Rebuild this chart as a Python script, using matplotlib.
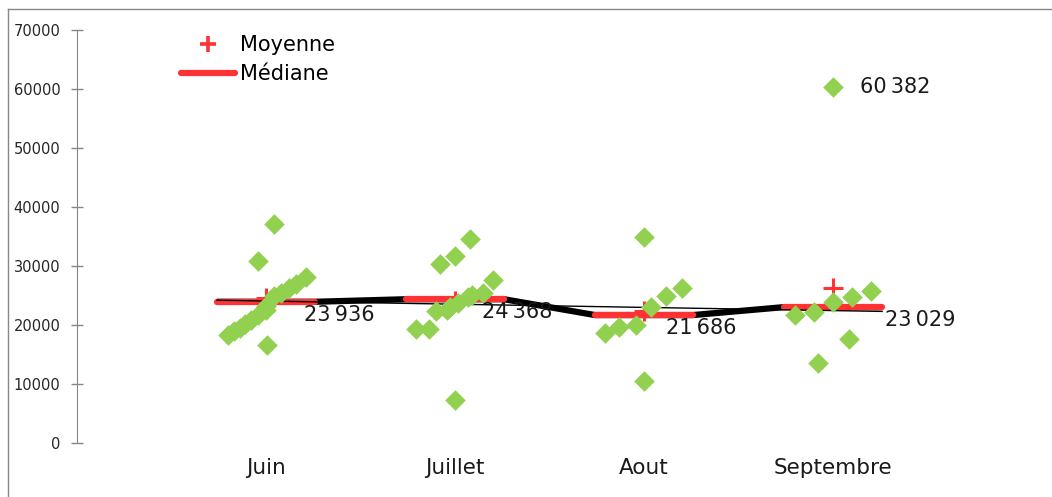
import numpy as np
import matplotlib as mpl
mpl.use('Agg')
import matplotlib.pyplot as plt
from matplotlib.lines import Line2D

# categories
months = ['Juin', 'Juillet', 'Aout', 'Septembre']

# green points per month : horizontal spread (in category units) and values
juin_dx = [-0.20, -0.17, -0.14, -0.11, -0.08, -0.04, 0.00, 0.04, 0.08, 0.12, 0.16, 0.21, 0.00, 0.044, -0.044, 0.005]
juin_val = [18300, 18900, 19500, 20200, 20900, 21700, 23300, 24900, 25500, 26200, 27000, 28100, 22540, 37100, 30850, 16600]

juillet_dx = [-0.10, -0.04, -0.026, 0.017, 0.07, 0.088, 0.15, 0.08, 0.00, -0.08, 0.20, -0.205, -0.136, 0.00]
juillet_val = [22370, 22540, 23100, 23670, 24800, 25080, 25370, 34580, 31750, 30300, 27630, 19320, 19320, 7300]

aout_dx = [-0.205, -0.13, -0.044, 0.035, 0.118, 0.20, 0.00, 0.00]
aout_val = [18590, 19720, 20000, 23100, 24970, 26330, 34970, 10500]

sept_dx = [-0.20, -0.10, 0.00, 0.10, 0.20, 0.087, -0.078, 0.00]
sept_val = [21690, 22260, 23950, 24800, 25820, 17580, 13610, 60382]

points_dx = [juin_dx, juillet_dx, aout_dx, sept_dx]
points_val = [juin_val, juillet_val, aout_val, sept_val]

medians = [23936, 24368, 21686, 23029]
means = [24500, 24100, 22300, 26300]
outlier = 60382

# label offsets (pixels) for the median labels
lab_dx = [38, 27, 22, 52]

GREEN = '#92D050'
RED = '#FF3333'

fig = plt.figure(figsize=(10.52, 4.97), dpi=100)
ax = fig.add_axes([77/1052, 54/497, 945/1052, 413/497])

cat_x = np.arange(1, len(months) + 1)
half = 0.26

# thick black line through the median segments
line_x, line_y = [], []
for c, m in zip(cat_x, medians):
    line_x += [c - half, c + half]
    line_y += [m, m]
ax.plot(line_x, line_y, color='black', lw=4.5, solid_capstyle='butt', zorder=2)

# median segments
for c, m in zip(cat_x, medians):
    ax.plot([c - half, c + half], [m, m], color=RED, lw=4.5, solid_capstyle='round', zorder=3)

# thin linear trend of medians
k, b = np.polyfit(cat_x, medians, 1)
tx = np.array([cat_x[0] - half, cat_x[-1] + half])
ax.plot(tx, k * tx + b, color='black', lw=1.0, zorder=4)

# means (behind the points, as in the original)
ax.plot(cat_x, means, linestyle='none', marker='+', ms=15, mew=2.2, color=RED, zorder=4.5)

# green diamonds
for c, dx, vals in zip(cat_x, points_dx, points_val):
    ax.scatter(c + np.array(dx), vals, marker='D', s=110, color=GREEN, linewidths=0, zorder=5)

# labels
for c, m, off in zip(cat_x, medians, lab_dx):
    txt = f'{m:,}'.replace(',', '\u2009')
    ax.annotate(txt, (c, m), xytext=(off, -13), textcoords='offset pixels',
                ha='left', va='center', fontsize=15, color='#1a1a1a', zorder=7)
ax.annotate(f'{outlier:,}'.replace(',', '\u2009'), (4, outlier), xytext=(27, 0),
            textcoords='offset pixels', ha='left', va='center', fontsize=15, color='#1a1a1a')

ax.set_xlim(0, 5)
ax.set_ylim(0, 70000)
ax.set_yticks(range(0, 70001, 10000))
ax.set_xticks(cat_x)
ax.set_xticklabels(months, fontsize=15.5, color='#1a1a1a')
ax.tick_params(axis='x', length=0, pad=11)
ax.tick_params(axis='y', direction='inout', length=9, width=1, color='#868686',
               labelsize=10.5, labelcolor='#262626', pad=7.5)
for s in ['top', 'right', 'bottom']:
    ax.spines[s].set_visible(False)
ax.spines['left'].set_color('#868686')

# legend
h1 = Line2D([], [], linestyle='none', marker='+', ms=12, mew=2.6, color=RED)
h2 = Line2D([], [], color=RED, lw=4.5, solid_capstyle='round')
ax.legend([h1, h2], ['Moyenne', 'Médiane'], loc='upper left', bbox_to_anchor=(104/945, 0.987),
          frameon=False, fontsize=15, handlelength=2.6, handletextpad=0.25,
          labelspacing=0.42, borderpad=0, borderaxespad=0)

# outer chart frame
fig.add_artist(Line2D([8/1052, 8/1052], [-0.1, 1 - 9/497], color='#888888', lw=1))
fig.add_artist(Line2D([8/1052, 1.1], [1 - 9/497, 1 - 9/497], color='#888888', lw=1))

fig.savefig('out.png', dpi=100)
